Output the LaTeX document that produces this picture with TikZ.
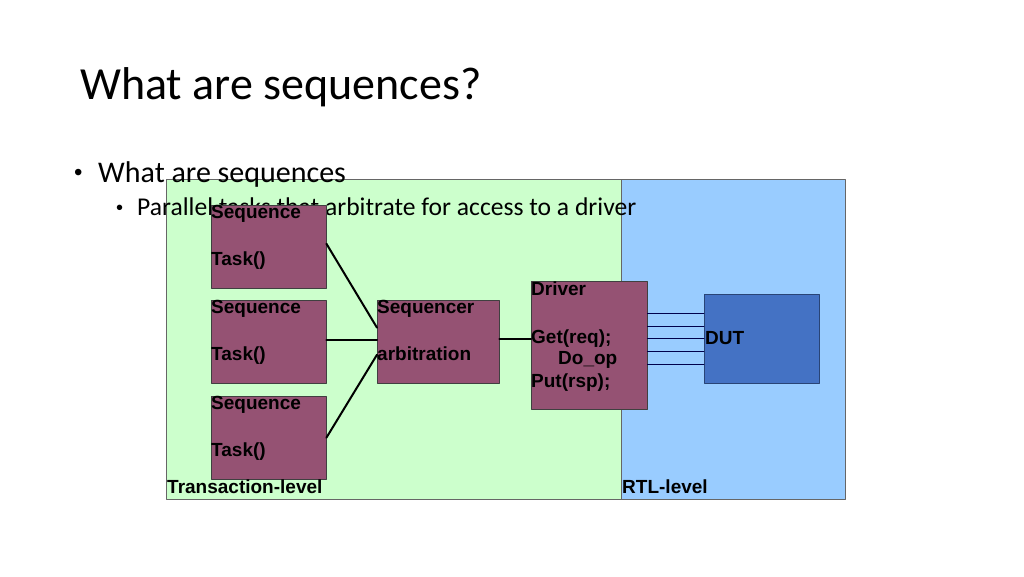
\documentclass[tikz,border=0pt]{standalone}
\usepackage{fontspec}
\setmainfont{Carlito}
\setsansfont{Liberation Sans}
\definecolor{tlgreen}{HTML}{CCFFCC}
\definecolor{rtlblue}{HTML}{99CCFF}
\definecolor{seqpurple}{HTML}{955273}
\definecolor{dutblue}{HTML}{4472C4}

\begin{document}
\begin{tikzpicture}[line cap=round,line join=round,x=1pt,y=-1pt,
	seqbox/.style={draw=black!75,fill=seqpurple,minimum width=115pt,minimum height=83pt,anchor=north west,inner sep=0pt},
	boxtext/.style={font=\sffamily\bfseries\fontsize{19}{22}\selectfont,anchor=base west,inner sep=0pt},
	slidetext/.style={anchor=base west,inner sep=0pt},
	wire/.style={line width=2pt},
	pin/.style={line width=0.8pt,color=black!70!blue}]
	\useasboundingbox (0,0) rectangle (1024,576);
	% transaction level and rtl level areas
	\draw [fill=tlgreen,draw=black!60] (166,179) rectangle (621,499);
	\draw [fill=rtlblue,draw=black!60] (621,179) rectangle (845,499);
	% slide text
	\node[slidetext,font=\fontsize{46}{50}\selectfont] (title) at (80,99) {What are sequences?};
	\node[slidetext,font=\sffamily\fontsize{24}{28}\selectfont] (b1) at (74,180) {•};
	\node[slidetext,font=\fontsize{30}{34}\selectfont] (t1) at (98,182) {What are sequences};
	\node[slidetext,font=\sffamily\fontsize{20}{24}\selectfont] (b2) at (116,214) {•};
	\node[slidetext,font=\fontsize{25.6}{30}\selectfont] (t2) at (137,215) {Parallel tasks that arbitrate for access to a driver};
	% sequences
	\node[seqbox] (seq1) at (211,205) {};
	\node[seqbox] (seq2) at (211,300) {};
	\node[seqbox] (seq3) at (211,396) {};
	\foreach \s in {seq1,seq2,seq3}{
		\node[boxtext] at ([yshift=-13pt]\s.north west) {Sequence};
		\node[boxtext] at ([yshift=-60pt]\s.north west) {Task()};
	}
	% sequencer
	\node[seqbox,minimum width=122pt] (sqr) at (377,300) {};
	\node[boxtext] (sqrname) at ([yshift=-13pt]sqr.north west) {Sequencer};
	\node[boxtext] (sqrarb) at ([yshift=-60pt]sqr.north west) {arbitration};
	% driver
	\node[seqbox,minimum width=116pt,minimum height=128pt] (drv) at (531,281) {};
	\node[boxtext] (drvname) at ([yshift=-14pt]drv.north west) {Driver};
	\node[boxtext] (drvget) at ([yshift=-62pt]drv.north west) {Get(req);};
	\node[boxtext] (drvdo) at ([xshift=27pt,yshift=-83pt]drv.north west) {Do\_op};
	\node[boxtext] (drvput) at ([yshift=-106pt]drv.north west) {Put(rsp);};
	% dut
	\node[draw=black!40!dutblue,fill=dutblue,minimum width=115pt,minimum height=89pt,anchor=north west,inner sep=0pt] (dut) at (704,294) {};
	\node[boxtext] (dutname) at ([xshift=1pt,yshift=-6pt]dut.west) {DUT};
	% connections
	\draw [wire] ([yshift=3pt]seq1.east) -- ([yshift=14pt]sqr.west);
	\draw [wire] ([yshift=2pt]seq2.east) -- ([yshift=2pt]seq2.east -| sqr.west);
	\draw [wire] (seq3.east) -- ([yshift=-13pt]sqr.west);
	\draw [wire] ([yshift=6pt]drv.west -| sqr.east) -- ([yshift=6pt]drv.west);
	\foreach \dy in {-25.5,-12.75,0,12.75,25.5}
		\draw [pin] ([yshift=\dy pt]dut.west) -- ([yshift=\dy pt]dut.west -| drv.east);
	% level labels
	\node[boxtext] (tllabel) at (167,493) {Transaction-level};
	\node[boxtext] (rtllabel) at (622,493) {RTL-level};
\end{tikzpicture}
\end{document}
